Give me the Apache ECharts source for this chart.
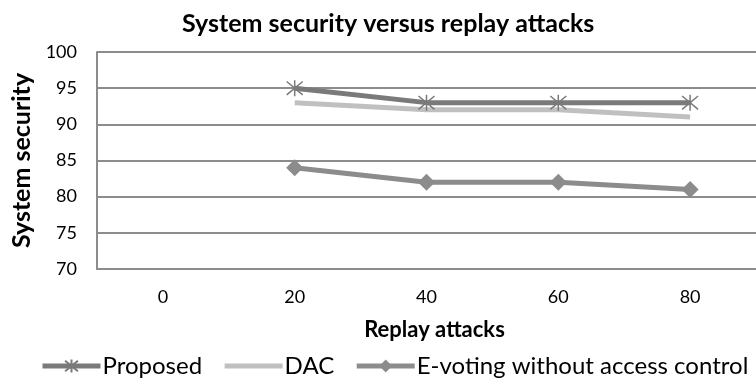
<!DOCTYPE html>
<html>
<head>
<meta charset="utf-8">
<script src="https://cdn.jsdelivr.net/npm/echarts@6/dist/echarts.min.js"></script>
<style>
  html, body { margin: 0; padding: 0; background: #fff; }
  #chart { width: 756px; height: 383px; }
</style>
</head>
<body>
<div id="chart"></div>
<script>
// Replay-attack counts along the x axis
const categories = ['0', '20', '40', '60', '80'];
// System security scores per scheme (no measurement at 0)
const proposed = [null, 95, 93, 93, 93];
const dac = [null, 93, 92, 92, 91];
const evoting = [null, 84, 82, 82, 81];
// Y axis range
const yMin = 70, yMax = 100, yStep = 5;

const FONT = 'Lato';
const asterisk = 'path://M0,0L10,10M10,0L0,10M5,-1L5,11';

const chart = echarts.init(document.getElementById('chart'));
chart.setOption({
  animation: false,
  backgroundColor: '#ffffff',
  title: {
    text: 'System security versus replay attacks',
    left: 177,
    top: 6,
    textStyle: { fontFamily: FONT, fontSize: 25, fontWeight: 'bold', color: '#000' }
  },
  legend: {
    bottom: 5,
    left: 40,
    width: 716,
    padding: 0,
    itemWidth: 58,
    itemHeight: 16,
    itemGap: 20,
    lineStyle: { width: 5 },
    textStyle: { fontFamily: FONT, fontSize: 24, color: '#000', padding: [0, 0, 0, -3] },
    data: [
      { name: 'Proposed' },
      { name: 'DAC', itemStyle: { opacity: 0 } },
      { name: 'E-voting without access control' }
    ]
  },
  grid: { left: 97, top: 52, width: 672, height: 217 },
  xAxis: {
    type: 'category',
    data: categories,
    boundaryGap: true,
    name: 'Replay attacks',
    nameLocation: 'middle',
    nameGap: 50,
    nameTextStyle: { fontFamily: FONT, fontSize: 22, fontWeight: 'bold', color: '#000', padding: [0, 0, 0, 16] },
    axisLine: { show: true, lineStyle: { color: '#8c8c8c', width: 2 } },
    axisTick: { show: false },
    axisLabel: { fontFamily: FONT, fontSize: 18, color: '#000', margin: 19 }
  },
  yAxis: {
    type: 'value',
    min: yMin,
    max: yMax,
    interval: yStep,
    name: 'System security',
    nameLocation: 'middle',
    nameGap: 63,
    nameTextStyle: { fontFamily: FONT, fontSize: 25, fontWeight: 'bold', color: '#000' },
    axisLine: { show: true, lineStyle: { color: '#8c8c8c', width: 2 } },
    axisTick: { show: false },
    axisLabel: { fontFamily: FONT, fontSize: 18, color: '#000', margin: 20 },
    splitLine: { show: true, lineStyle: { color: '#8c8c8c', width: 2 } }
  },
  series: [
    {
      name: 'Proposed',
      type: 'line',
      data: proposed,
      symbol: asterisk,
      symbolSize: 16,
      showSymbol: true,
      lineStyle: { color: '#7a7a7a', width: 5 },
      itemStyle: { color: 'none', borderColor: '#7a7a7a', borderWidth: 1.5 },
      z: 3
    },
    {
      name: 'DAC',
      type: 'line',
      data: dac,
      symbol: 'none',
      lineStyle: { color: '#c0c0c0', width: 5 },
      itemStyle: { color: '#c0c0c0' },
      z: 2
    },
    {
      name: 'E-voting without access control',
      type: 'line',
      data: evoting,
      symbol: 'diamond',
      symbolSize: 17,
      lineStyle: { color: '#8c8c8c', width: 5 },
      itemStyle: { color: '#8c8c8c' },
      z: 2
    }
  ]
});
</script>
</body>
</html>
